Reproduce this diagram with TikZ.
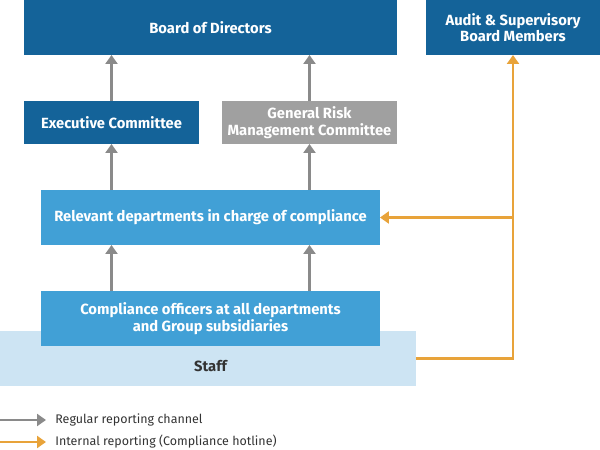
\documentclass[tikz,border=0pt]{standalone}
\usepackage{fontspec}
\setmainfont{Fira Sans}
\usetikzlibrary{arrows.meta,calc,positioning}

\definecolor{boarddark}{HTML}{146399}
\definecolor{deptblue}{HTML}{41A0D6}
\definecolor{riskgray}{HTML}{A0A0A0}
\definecolor{staffpale}{HTML}{CDE4F3}
\definecolor{hotorange}{HTML}{E8A33A}
\definecolor{arrgray}{HTML}{8A8A8A}
\definecolor{txtdark}{HTML}{333333}

\begin{document}
\begin{tikzpicture}[
  x=0.02cm, y=-0.02cm,
  font=\fontsize{7.1pt}{9pt}\selectfont,
  box/.style={inner sep=0pt, outer sep=0pt, align=center, text=white,
              font=\fontsize{8.4pt}{9.3pt}\selectfont\bfseries},
  darkbox/.style={box, fill=boarddark},
  graybox/.style={box, fill=riskgray},
  deptbox/.style={box, fill=deptblue, minimum width=6.78cm, minimum height=1.1cm},
  sig/.style={draw=arrgray, line width=1.7pt, -{Triangle[length=0.18cm,width=0.24cm]}},
  hot/.style={draw=hotorange, line width=1.4pt, -{Triangle[length=0.18cm,width=0.24cm]}},
  lgd/.style={anchor=west, text=txtdark, inner sep=0pt},
]
\useasboundingbox (0,0) rectangle (600,450);

% ---------- top level ----------
\node[darkbox, minimum width=7.46cm, minimum height=1.1cm] (board) at (210.5,27.5)
  {Board of Directors};
\node[darkbox, minimum width=3.48cm, minimum height=1.1cm] (audit) at (513,27.5)
  {Audit \& Supervisory\\Board Members};

% ---------- committees ----------
\node[darkbox, minimum width=3.5cm, minimum height=0.86cm] (exec) at (111.5,122.5)
  {Executive Committee};
\node[graybox, minimum width=3.5cm, minimum height=0.86cm] (grmc) at (309.5,122.5)
  {General Risk\\Management Committee};

% ---------- departments ----------
\node[deptbox] (dept) at (210.5,217.5)
  {Relevant departments in charge of compliance};

% ---------- staff (behind officers) ----------
\node[box, fill=staffpale, minimum width=8.32cm, minimum height=1.1cm,
      text=txtdark] (staff) at (208,358.5) {};
\node[box, text=txtdark] (stafflbl) at (210.5,366) {Staff};
\node[deptbox] (officer) at (210.5,318.5)
  {Compliance officers at all departments\\and Group subsidiaries};

% ---------- regular reporting ----------
\draw[sig] (exec.north) -- (exec.north |- board.south);
\draw[sig] (grmc.north) -- (grmc.north |- board.south);
\draw[sig] (dept.north -| exec.south) -- (exec.south);
\draw[sig] (dept.north -| grmc.south) -- (grmc.south);
\draw[sig] (officer.north -| exec.south) -- (exec.south |- dept.south);
\draw[sig] (officer.north -| grmc.south) -- (grmc.south |- dept.south);

% ---------- compliance hotline ----------
\coordinate (split) at (audit.south |- dept.east);
\draw[hot] (staff.east) -| (audit.south);
\draw[hot] (split) -- (dept.east);

% ---------- legend ----------
\coordinate (lgA) at (0,420);
\coordinate (lgB) at (46,420);
\coordinate (lgC) at (0,442);
\coordinate (lgD) at (46,442);
\draw[sig] (lgA) -- (lgB);
\node[lgd] (lgtxtA) at (55,420) {Regular reporting channel};
\draw[hot] (lgC) -- (lgD);
\node[lgd] (lgtxtB) at (55,442) {Internal reporting (Compliance hotline)};

\end{tikzpicture}
\end{document}
